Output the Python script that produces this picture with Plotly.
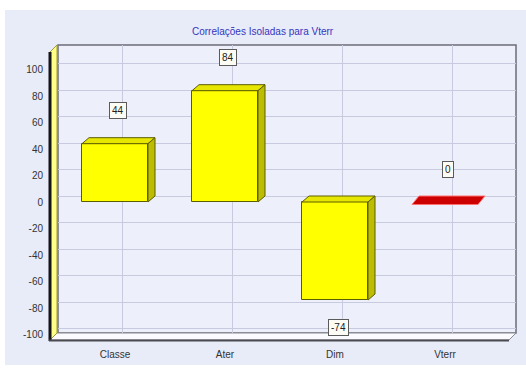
import plotly.graph_objects as go

categories = ["Classe", "Ater", "Dim", "Vterr"]
values = [44, 84, -74, 0]
y_ticks = list(range(-100, 101, 20))
y_tick_labels = [str(t) for t in y_ticks]
title_text = "Correlações Isoladas para Vterr"

W, H = 526, 370


def fx(px):
    return px / W


def fy(py):
    return 1 - py / H


# front-plane geometry (pixels)
X0PX, XSTEP = 115, 110
Y0PX, YSCALE = 202, 1.325
DX, DY = 7, 6

front_x = [50, 516]
front_y = [45, 341]
xr2 = [(front_x[0] - X0PX) / XSTEP, (front_x[1] - X0PX) / XSTEP]
yr2 = [(Y0PX - front_y[1]) / YSCALE, (Y0PX - front_y[0]) / YSCALE]

wall_x = [58, 516]
wall_y = [45, 333]
xr1 = [(wall_x[0] - X0PX - DX) / XSTEP, (wall_x[1] - X0PX - DX) / XSTEP]
yr1 = [(Y0PX - DY - wall_y[1]) / YSCALE, (Y0PX - DY - wall_y[0]) / YSCALE]

idx = list(range(len(categories)))
hw = 0.3
dxd = DX / XSTEP
dyd = DY / YSCALE

fig = go.Figure()
# invisible trace for back-wall grid subplot
fig.add_trace(go.Scatter(x=[0], y=[0], mode="markers", marker=dict(opacity=0),
                         hoverinfo="skip", showlegend=False, xaxis="x", yaxis="y"))
fig.add_trace(go.Bar(
    x=idx, y=values, width=0.6, xaxis="x2", yaxis="y2",
    marker=dict(color="#ffff00",
                line=dict(color="#5c5c00", width=[0 if v == 0 else 1 for v in values])),
    showlegend=False, hoverinfo="skip"))

shapes = []


def ppath(pts):
    return "M " + " L ".join(f"{fx(a):.5f},{fy(b):.5f}" for a, b in pts) + " Z"


# background
shapes.append(dict(type="rect", xref="paper", yref="paper", layer="below",
                   x0=fx(5), x1=fx(526), y0=fy(365), y1=fy(10),
                   fillcolor="#e8ebf8", line=dict(width=0)))
# back wall
shapes.append(dict(type="rect", xref="paper", yref="paper", layer="below",
                   x0=fx(58), x1=fx(516), y0=fy(333), y1=fy(45),
                   fillcolor="#edf0fb", line=dict(color="#6c6c78", width=1.5)))
# floor
shapes.append(dict(type="path", xref="paper", yref="paper", layer="below",
                   path=ppath([(50, 340), (57, 333), (516, 333), (509, 340)]),
                   fillcolor="#fbfbff", line=dict(color="#8a8a94", width=1)))
# left wall
shapes.append(dict(type="path", xref="paper", yref="paper", layer="below",
                   path=ppath([(50, 52), (57, 45), (57, 333), (50, 340)]),
                   fillcolor="#ffff88", line=dict(color="#9a9a40", width=1)))
shapes.append(dict(type="line", xref="paper", yref="paper", layer="below",
                   x0=fx(50), x1=fx(50), y0=fy(52), y1=fy(341),
                   line=dict(color="#151515", width=3)))
shapes.append(dict(type="line", xref="paper", yref="paper", layer="below",
                   x0=fx(49), x1=fx(509), y0=fy(340.5), y1=fy(340.5),
                   line=dict(color="#4a4a50", width=2)))

# 3D faces of bars
for i, v in zip(idx, values):
    top = max(v, 0)
    bot = min(v, 0)
    if v == 0:
        # flat marker for a zero value, drawn as a thin red slab
        t = 2.5 / YSCALE
        path_flat = (f"M {i-hw},{-t} L {i-hw+dxd},{dyd} L {i+hw+dxd},{dyd} "
                     f"L {i+hw},{-t} Z")
        shapes.append(dict(type="path", xref="x2", yref="y2", layer="above", path=path_flat,
                           fillcolor="#cc0000", line=dict(color="#ff7070", width=1)))
        continue
    path_top = (f"M {i-hw},{top} L {i-hw+dxd},{top+dyd} L {i+hw+dxd},{top+dyd} "
                f"L {i+hw},{top} Z")
    shapes.append(dict(type="path", xref="x2", yref="y2", layer="above", path=path_top,
                       fillcolor="#e6e600", line=dict(color="#5c5c00", width=1)))
    path_side = (f"M {i+hw},{top} L {i+hw+dxd},{top+dyd} L {i+hw+dxd},{bot+dyd} "
                 f"L {i+hw},{bot} Z")
    shapes.append(dict(type="path", xref="x2", yref="y2", layer="above", path=path_side,
                       fillcolor="#bcbc00", line=dict(color="#5c5c00", width=1)))

annotations = []
for i, v in zip(idx, values):
    annotations.append(dict(
        x=i, y=v, xref="x2", yref="y2", text=str(v), showarrow=False,
        xanchor="center", yanchor="middle",
        xshift=3, yshift=33 if v >= 0 else -27,
        bgcolor="#fcfcf4", bordercolor="#5a5a5a", borderwidth=1, borderpad=2,
        font=dict(size=10, color="#222")))
annotations.append(dict(
    x=fx(263), y=fy(31), xref="paper", yref="paper", text=title_text, showarrow=False,
    xanchor="center", yanchor="middle",
    font=dict(size=10, color="#3535c0")))

fig.update_layout(
    width=W, height=H,
    margin=dict(l=0, r=0, t=0, b=0),
    paper_bgcolor="#ffffff",
    plot_bgcolor="rgba(0,0,0,0)",
    font=dict(family="Liberation Sans", size=10, color="#333"),
    shapes=shapes,
    annotations=annotations,
    bargap=0,
    xaxis=dict(domain=[fx(wall_x[0]), fx(wall_x[1])], range=xr1, anchor="y",
               tickvals=idx, showticklabels=False, showgrid=True, gridcolor="#c8cbe0",
               zeroline=False, showline=False, ticks="", fixedrange=True),
    yaxis=dict(domain=[fy(wall_y[1]), fy(wall_y[0])], range=yr1, anchor="x",
               tickvals=y_ticks, showticklabels=False, showgrid=True, gridcolor="#c8cbe0",
               zeroline=False, showline=False, ticks="", fixedrange=True),
    xaxis2=dict(domain=[fx(front_x[0]), fx(front_x[1])], range=xr2, anchor="y2",
                tickvals=idx, ticktext=categories, showgrid=False, zeroline=False,
                showline=False, ticks="", ticklabelstandoff=6, fixedrange=True),
    yaxis2=dict(domain=[fy(front_y[1]), fy(front_y[0])], range=yr2, anchor="x2",
                tickvals=y_ticks, ticktext=y_tick_labels, showgrid=False, zeroline=False,
                showline=False, ticks="", ticklabelstandoff=6, fixedrange=True),
)

fig.write_html("out.html")
